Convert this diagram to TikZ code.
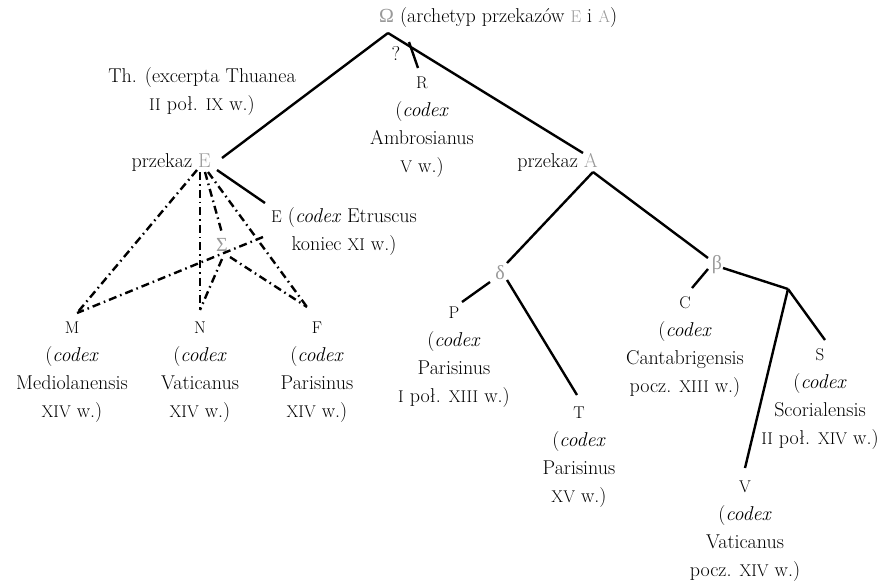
\documentclass[tikz,border=0pt]{standalone}
\usepackage{fontspec}
\newfontfamily\grk{Liberation Serif}
\usetikzlibrary{calc}
\definecolor{symgray}{gray}{0.6}
\newcommand{\gsym}[1]{\textcolor{symgray}{#1}}
\newcommand{\fs}{\fontsize{20}{28}\selectfont}
\newcommand{\sca}[1]{{\fontsize{17}{28}\selectfont #1}}
\begin{document}
\begin{tikzpicture}[x=1pt,y=-1pt,
  txt/.style={inner sep=0pt, font=\fs},
  blk/.style={txt, align=center, anchor=north},
  edge/.style={line width=2.4pt, line cap=butt},
  dd/.style={edge, dash pattern=on 8pt off 4pt on 1.6pt off 4pt}]
\useasboundingbox (0,0) rectangle (885,582);

% text nodes
\node[txt, anchor=base west] (omega) at (379,22) {\gsym{\grk Ω} (archetyp przekazów \gsym{\sca{E}} i \gsym{\sca{A}})};
\node[txt] (q) at (396,53) {?};
\node[blk] (th) at (202,63) {\strut Th. (excerpta Thuanea\\ \sca{II} poł. \sca{IX} w.)};
\node[txt, anchor=base east] (pE) at (211,167) {przekaz \gsym{E}};
\node[blk] (R) at (422,69) {\strut\sca{R}\\(\textit{codex}\\Ambrosianus\\\sca{V} w.)};
\node[txt, anchor=base east] (pA) at (598,167) {przekaz \gsym{A}};
\node[blk] (Ec) at (344,203) {\strut\sca{E} (\textit{codex} Etruscus\\koniec \sca{XI} w.)};
\node[txt] (Sig) at (222,245) {\gsym{\grk Σ}};
\node[blk] (M) at (72,314) {\strut\sca{M}\\(\textit{codex}\\Mediolanensis\\\sca{XIV} w.)};
\node[blk] (N) at (200,314) {\strut\sca{N}\\(\textit{codex}\\Vaticanus\\\sca{XIV} w.)};
\node[blk] (F) at (317,314) {\strut\sca{F}\\(\textit{codex}\\Parisinus\\\sca{XIV} w.)};
\node[txt] (del) at (500,273) {\gsym{\grk δ}};
\node[txt] (bet) at (717,265) {\gsym{\grk β}};
\node[blk] (P) at (454,299) {\strut\sca{P}\\(\textit{codex}\\Parisinus\\\sca{I} poł. \sca{XIII} w.)};
\node[blk] (T) at (579,399) {\strut\sca{T}\\(\textit{codex}\\Parisinus\\\sca{XV} w.)};
\node[blk] (C) at (685,289) {\strut\sca{C}\\(\textit{codex}\\Cantabrigensis\\pocz. \sca{XIII} w.)};
\node[blk] (S) at (820,341) {\strut\sca{S}\\(\textit{codex}\\Scorialensis\\\sca{II} poł. \sca{XIV} w.)};
\node[blk] (V) at (745,473) {\strut\sca{V}\\(\textit{codex}\\Vaticanus\\pocz. \sca{XIV} w.)};

% junctions
\coordinate (omJ) at ($(omega.base west)+(9,11)$);
\coordinate (pEJ) at ($(pE.base east)+(-6,5)$);
\coordinate (paJ) at ($(pA.base east)+(-5,5)$);
\coordinate (bJ) at ($(bet.center)+(71,24)$);

% solid edges
\draw[edge] (omJ) -- ($(pE.base east)+(11,-9)$);
\draw[edge] (omJ) -- ($(pA.base east)+(-15,-14)$);
\draw[edge] ($(R.north)+(-13,-27)$) -- ($(R.north)+(-4,-1)$);
\draw[edge] ($(pE.base east)+(6,3)$) -- ($(Ec.north)+(-79,0)$);
\draw[edge] (paJ) -- ($(del.center)+(7,-10)$);
\draw[edge] (paJ) -- ($(bet.center)+(-9,-7)$);
\draw[edge] ($(del.center)+(-10,9)$) -- ($(P.north)+(8,3)$);
\draw[edge] ($(del.center)+(7,7)$) -- ($(T.north)+(-2,-4)$);
\draw[edge] ($(bet.center)+(-9,4)$) -- ($(C.north)+(7,-1)$);
\draw[edge] ($(bet.center)+(6,3)$) -- (bJ);
\draw[edge] (bJ) -- ($(S.north)+(5,-1)$);
\draw[edge] (bJ) -- ($(V.north)+(0,-5)$);

% dash-dot edges
\draw[dd] ($(pEJ)+(-8,-2)$) -- ($(M.north)+(5,-1)$);
\draw[dd] ($(pEJ)+(-5,0)$) -- ($(N.north)+(0,-4)$);
\draw[dd] (pEJ) -- ($(Sig.center)+(0,-12)$);
\draw[dd] ($(pEJ)+(3,0)$) -- ($(F.north)+(-10,-7)$);
\draw[dd] ($(Ec.north)+(-81,34)$) -- ($(M.north)+(5,-1)$);
\draw[dd] ($(Sig.center)+(0,14)$) -- ($(N.north)+(0,-4)$);
\draw[dd] ($(Sig.center)+(8,12)$) -- ($(F.north)+(-10,-7)$);
\end{tikzpicture}
\end{document}
